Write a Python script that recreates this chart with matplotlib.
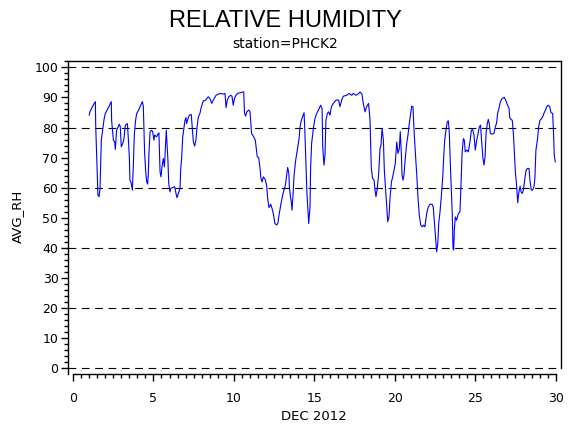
import matplotlib
matplotlib.use("Agg")
import matplotlib.pyplot as plt
from matplotlib.ticker import MultipleLocator

# Data (day of month, average relative humidity %)
days = [
    1.01, 1.05, 1.22, 1.39, 1.41, 1.47, 1.55, 1.62, 1.68, 1.76, 1.84, 1.93, 2.01, 2.17, 2.38,
    2.40, 2.51, 2.59, 2.63, 2.71, 2.80, 2.88, 2.94, 3.00, 3.09, 3.17, 3.25, 3.38, 3.44, 3.50,
    3.54, 3.60, 3.69, 3.75, 3.81, 3.89, 3.96, 4.08, 4.21, 4.31, 4.37, 4.41, 4.45, 4.52, 4.58,
    4.64, 4.68, 4.72, 4.79, 4.87, 4.95, 5.03, 5.08, 5.20, 5.28, 5.34, 5.41, 5.47, 5.53, 5.61,
    5.68, 5.74, 5.80, 5.84, 5.90, 5.95, 6.03, 6.07, 6.19, 6.32, 6.40, 6.46, 6.55, 6.65, 6.69,
    6.75, 6.82, 6.90, 6.96, 7.02, 7.06, 7.15, 7.23, 7.35, 7.40, 7.48, 7.56, 7.64, 7.71, 7.79,
    7.89, 7.98, 8.10, 8.20, 8.41, 8.51, 8.62, 8.72, 8.89, 9.03, 9.18, 9.34, 9.45, 9.51, 9.59,
    9.68, 9.80, 9.88, 9.96, 10.03, 10.13, 10.21, 10.38, 10.54, 10.61, 10.66, 10.73, 10.80, 10.92, 11.00,
    11.04, 11.10, 11.21, 11.33, 11.45, 11.54, 11.62, 11.68, 11.75, 11.83, 11.95, 12.04, 12.10, 12.18, 12.29,
    12.37, 12.45, 12.55, 12.66, 12.74, 12.82, 12.93, 13.03, 13.11, 13.20, 13.28, 13.34, 13.41, 13.45, 13.51,
    13.57, 13.61, 13.68, 13.74, 13.84, 13.94, 14.05, 14.11, 14.19, 14.28, 14.36, 14.40, 14.48, 14.54, 14.61,
    14.65, 14.73, 14.77, 14.83, 14.94, 15.04, 15.15, 15.27, 15.39, 15.48, 15.52, 15.60, 15.66, 15.72, 15.81,
    15.89, 15.97, 16.06, 16.18, 16.35, 16.51, 16.59, 16.70, 16.80, 17.01, 17.17, 17.32, 17.42, 17.59, 17.76,
    17.84, 17.96, 18.04, 18.15, 18.25, 18.37, 18.46, 18.54, 18.62, 18.71, 18.77, 18.83, 18.91, 19.00, 19.08,
    19.14, 19.21, 19.29, 19.35, 19.43, 19.50, 19.56, 19.64, 19.70, 19.79, 19.87, 19.95, 20.03, 20.12, 20.20,
    20.28, 20.34, 20.41, 20.45, 20.51, 20.57, 20.66, 20.74, 20.82, 20.90, 20.99, 21.05, 21.13, 21.19, 21.28,
    21.36, 21.44, 21.52, 21.61, 21.71, 21.79, 21.87, 21.98, 22.08, 22.19, 22.31, 22.39, 22.48, 22.54, 22.60,
    22.67, 22.73, 22.81, 22.89, 22.98, 23.04, 23.10, 23.18, 23.26, 23.33, 23.39, 23.45, 23.51, 23.57, 23.62,
    23.66, 23.70, 23.76, 23.84, 23.95, 24.05, 24.11, 24.18, 24.26, 24.32, 24.38, 24.47, 24.57, 24.67, 24.76,
    24.84, 24.92, 25.00, 25.09, 25.17, 25.25, 25.33, 25.40, 25.48, 25.54, 25.61, 25.67, 25.75, 25.81, 25.87,
    25.94, 26.04, 26.16, 26.25, 26.33, 26.39, 26.47, 26.56, 26.66, 26.81, 26.89, 27.01, 27.10, 27.14, 27.22,
    27.30, 27.37, 27.43, 27.50, 27.56, 27.60, 27.64, 27.70, 27.79, 27.85, 27.93, 27.99, 28.07, 28.15, 28.23,
    28.34, 28.40, 28.48, 28.56, 28.65, 28.71, 28.77, 28.86, 28.94, 29.02, 29.13, 29.21, 29.27, 29.36, 29.44,
    29.54, 29.63, 29.71, 29.81, 29.87, 29.91, 29.97,
]
avg_rh = [
    84.1, 85.2, 87.1, 88.6, 80.8, 70.5, 57.5, 57.0, 59.7, 75.8, 79.1, 82.7, 84.7, 86.3, 88.6,
    82.4, 75.8, 75.2, 72.7, 79.1, 80.2, 81.1, 80.2, 73.6, 74.7, 76.3, 80.8, 81.3, 76.3, 70.3,
    62.5, 61.9, 59.2, 67.5, 77.5, 82.4, 84.7, 85.8, 87.4, 88.6, 87.1, 79.1, 71.6, 65.3, 61.9,
    61.2, 64.6, 71.6, 78.6, 79.1, 78.6, 75.8, 77.5, 76.9, 77.8, 78.2, 65.3, 63.6, 66.9, 69.7,
    66.9, 73.0, 79.1, 75.2, 69.1, 61.4, 58.6, 59.7, 60.1, 60.3, 58.1, 56.7, 58.1, 59.7, 65.8,
    69.7, 76.9, 80.2, 82.4, 83.3, 81.3, 83.0, 84.1, 84.3, 80.8, 75.2, 73.8, 75.8, 80.2, 83.5,
    84.7, 86.9, 88.9, 88.9, 90.2, 89.6, 88.0, 89.1, 90.7, 91.1, 91.3, 91.1, 91.3, 86.6, 89.1,
    90.2, 90.7, 90.4, 87.4, 89.6, 90.7, 91.3, 91.5, 91.8, 91.8, 84.7, 83.8, 85.2, 85.8, 85.2,
    82.4, 78.0, 77.1, 75.8, 70.3, 70.0, 66.7, 63.1, 61.9, 63.6, 62.7, 60.5, 56.4, 53.4, 54.5,
    53.1, 51.4, 48.1, 47.6, 48.3, 51.4, 54.8, 57.5, 59.2, 60.8, 64.2, 66.7, 65.0, 60.3, 57.0,
    55.3, 52.5, 58.1, 64.2, 69.1, 72.5, 76.3, 80.2, 82.4, 83.8, 84.9, 80.2, 68.0, 58.1, 51.4,
    48.1, 53.6, 66.9, 74.7, 79.7, 83.0, 84.7, 86.0, 87.4, 86.3, 73.6, 67.5, 70.8, 82.4, 84.7,
    85.2, 84.1, 86.9, 88.0, 89.1, 89.1, 86.9, 89.1, 90.4, 90.7, 91.3, 90.7, 91.3, 90.7, 91.3,
    91.8, 91.1, 88.0, 85.2, 86.9, 88.0, 82.4, 66.4, 63.1, 62.5, 59.2, 57.0, 59.7, 64.7, 73.0,
    74.1, 79.7, 75.8, 65.8, 59.2, 53.6, 48.7, 50.4, 56.4, 61.9, 63.6, 65.8, 68.0, 75.2, 71.4,
    73.0, 78.6, 71.0, 64.2, 62.5, 64.2, 70.3, 74.7, 77.5, 81.3, 84.7, 87.1, 86.9, 79.7, 71.4,
    64.7, 57.0, 50.9, 47.6, 47.0, 47.6, 47.0, 51.4, 53.6, 54.5, 54.5, 53.6, 47.0, 42.6, 38.7,
    41.4, 48.1, 52.0, 57.0, 63.6, 70.3, 75.8, 79.1, 81.9, 82.2, 78.0, 68.0, 59.2, 51.4, 39.8,
    39.3, 45.9, 50.3, 49.2, 51.4, 52.0, 60.3, 71.4, 76.3, 75.8, 71.9, 72.5, 71.9, 75.2, 79.1,
    79.3, 77.5, 72.5, 75.8, 77.8, 80.2, 80.8, 75.2, 69.7, 67.5, 70.3, 78.0, 81.3, 82.7, 81.3,
    78.0, 77.8, 78.0, 80.2, 81.6, 84.7, 86.3, 88.5, 89.6, 90.0, 89.1, 87.4, 86.3, 83.3, 82.7,
    82.4, 78.0, 71.9, 64.7, 61.4, 58.1, 55.0, 58.1, 60.5, 58.6, 58.1, 59.2, 62.5, 65.6, 66.4,
    66.4, 62.5, 59.2, 59.2, 60.3, 63.6, 72.5, 75.8, 80.2, 82.4, 83.0, 83.8, 84.7, 85.8, 86.9,
    87.4, 86.9, 84.9, 84.7, 77.5, 70.8, 68.6,
]

x_ticks = [0, 5, 10, 15, 20, 25, 30]
y_ticks = [0, 10, 20, 30, 40, 50, 60, 70, 80, 90, 100]
ref_lines = [0, 20, 40, 60, 80, 100]

title = "RELATIVE HUMIDITY"
subtitle = "station=PHCK2"
x_label = "DEC 2012"
y_label = "AVG_RH"

W, H = 570, 430
fig = plt.figure(figsize=(W / 100, H / 100), dpi=100)
fig.patch.set_facecolor("white")

# axes frame in pixel coordinates
left_px, right_px, top_px, bottom_px = 67.5, 560.5, 61.0, 373.5
ax = fig.add_axes([left_px / W, 1 - bottom_px / H,
                   (right_px - left_px) / W, (bottom_px - top_px) / H])

# data-space limits so that 0..30 and 0..100 fall where the reference puts them
x0_px, x30_px = 73.0, 555.7
y0_px, y100_px = 368.3, 67.3
xs = (x30_px - x0_px) / 30.0
ys = (y0_px - y100_px) / 100.0
ax.set_xlim((left_px - x0_px) / xs, (right_px - x0_px) / xs)
ax.set_ylim((y0_px - bottom_px) / ys, (y0_px - top_px) / ys)

for v in ref_lines:
    ax.axhline(v, color="black", lw=0.8, linestyle=(0, (7, 5)), zorder=1)

ax.plot(days, avg_rh, color="#0000ff", lw=0.8, zorder=3)

for s in ax.spines.values():
    s.set_linewidth(1.0)
    s.set_color("black")
ax.spines["bottom"].set_bounds(0, 30)
ax.spines["right"].set_bounds(0, ax.get_ylim()[1])

ax.set_xticks(x_ticks)
ax.set_yticks(y_ticks)
ax.xaxis.set_minor_locator(MultipleLocator(0.5))
ax.yaxis.set_minor_locator(MultipleLocator(2))
ax.tick_params(axis="both", which="major", direction="out", length=5, width=1,
               labelsize=9, colors="black")
ax.tick_params(axis="both", which="minor", direction="out", length=3, width=1)
ax.tick_params(axis="x", which="major", pad=8)
ax.tick_params(axis="y", which="major", pad=1.5)
ax.set_xticklabels([str(t) for t in x_ticks])
ax.set_yticklabels([str(t) for t in y_ticks])

fig.text(285 / W, 1 - 21 / H, title, ha="center", va="center",
         fontsize=17, family=["Liberation Sans", "DejaVu Sans"])
fig.text(285 / W, 1 - 44 / H, subtitle, ha="center", va="center",
         fontsize=10, family=["DejaVu Sans"])
fig.text(314 / W, 1 - 417 / H, x_label, ha="center", va="center", fontsize=9.5)
fig.text(17 / W, 1 - 216 / H, y_label, ha="center", va="center", fontsize=9.5,
         rotation=90)

fig.savefig("out.png", dpi=100, facecolor="white")
